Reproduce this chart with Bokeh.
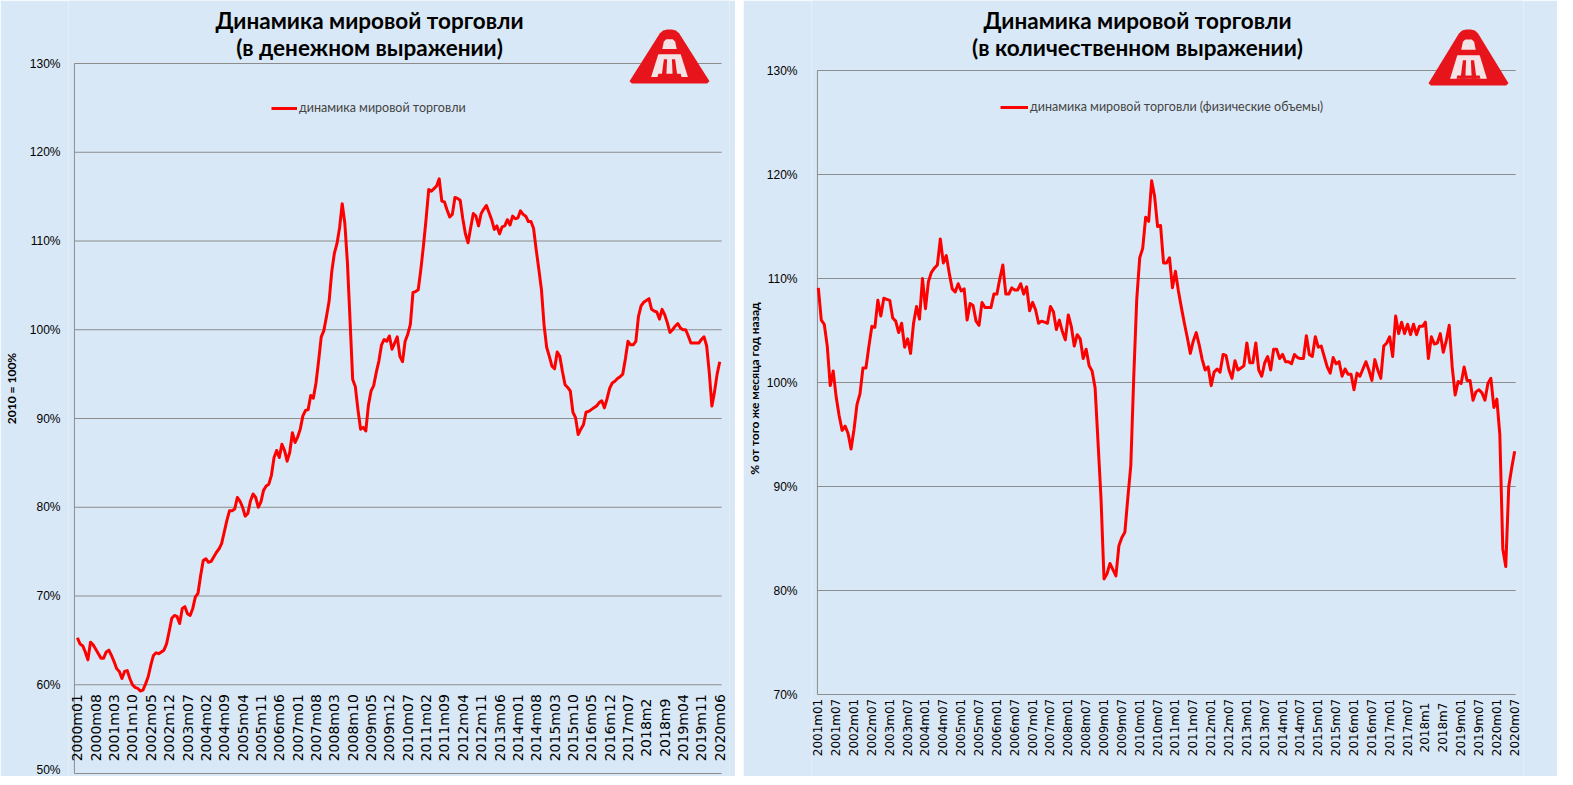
import math
from bokeh.plotting import figure
from bokeh.models import (Range1d, FixedTicker, PrintfTickFormatter, Label, Legend,
                          LegendItem, PolyAnnotation, Spacer, ColumnDataSource)
from bokeh.layouts import row
from bokeh.embed import file_html
from bokeh.resources import INLINE
from bokeh.core.properties import value

# ---------------- data ----------------
money_title = ["Динамика мировой торговли", "(в денежном выражении)"]
volume_title = ["Динамика мировой торговли", "(в количественном выражении)"]
money_series_name = "динамика мировой торговли"
volume_series_name = "динамика мировой торговли (физические объемы)"
money_axis_label = "2010 = 100%"
volume_axis_label = "% от того же месяца год назад"

# monthly, 2000m01 .. 2020m06, 2010 = 100%
money_values = [
    65.3, 64.6, 64.4, 63.7, 62.8, 64.8, 64.5, 64.0, 63.5, 63.0,
    63.0, 63.7, 63.9, 63.3, 62.6, 61.8, 61.5, 60.7, 61.5, 61.6,
    60.7, 60.0, 59.7, 59.6, 59.3, 59.4, 60.1, 60.9, 62.2, 63.3,
    63.6, 63.5, 63.7, 63.9, 64.6, 66.0, 67.5, 67.8, 67.7, 66.9,
    68.6, 68.8, 68.0, 67.8, 68.6, 69.9, 70.3, 72.3, 74.0, 74.2,
    73.8, 73.9, 74.4, 74.9, 75.3, 75.9, 77.2, 78.5, 79.6, 79.6,
    79.8, 81.1, 80.7, 80.0, 79.0, 79.3, 80.7, 81.5, 81.1, 80.0,
    80.6, 81.9, 82.4, 82.6, 83.6, 85.6, 86.4, 85.6, 87.1, 86.4,
    85.2, 86.2, 88.4, 87.3, 87.9, 88.8, 90.3, 90.9, 91.0, 92.6,
    92.3, 94.0, 96.5, 99.2, 99.9, 101.5, 103.2, 106.5, 108.6, 109.7,
    111.5, 114.2, 112.0, 107.5, 101.0, 94.4, 93.6, 91.0, 88.8, 89.0,
    88.6, 91.5, 93.1, 93.7, 95.2, 96.5, 98.3, 98.9, 98.7, 99.3,
    97.8, 98.5, 99.2, 97.0, 96.4, 98.7, 99.5, 100.6, 104.2, 104.3,
    104.5, 106.8, 109.5, 112.5, 115.8, 115.6, 115.9, 116.2, 117.0, 114.5,
    114.4, 113.5, 112.7, 113.0, 114.9, 114.8, 114.6, 112.5, 110.8, 109.8,
    111.5, 113.1, 112.8, 111.7, 113.1, 113.6, 114.0, 113.2, 112.4, 111.3,
    111.7, 110.8, 111.6, 111.7, 112.4, 111.8, 112.8, 112.5, 112.6, 113.4,
    113.0, 112.8, 112.2, 112.2, 111.4, 109.0, 106.8, 104.5, 100.5, 98.0,
    97.0, 95.9, 95.6, 97.5, 97.0, 95.3, 93.8, 93.5, 93.1, 90.7,
    90.1, 88.2, 88.8, 89.3, 90.7, 90.8, 91.0, 91.2, 91.4, 91.8,
    92.0, 91.2, 92.2, 93.4, 94.0, 94.2, 94.5, 94.7, 95.0, 96.7,
    98.7, 98.3, 98.3, 98.7, 101.5, 102.7, 103.1, 103.3, 103.5, 102.3,
    102.1, 102.0, 101.2, 102.3, 101.7, 100.8, 99.7, 100.0, 100.4, 100.7,
    100.2, 100.0, 100.0, 99.3, 98.5, 98.5, 98.5, 98.5, 98.9, 99.2,
    98.2, 95.2, 91.4, 93.0, 95.0, 96.4,
]

# monthly, 2001m01 .. 2020m07, % of same month a year earlier
volume_values = [
    109.1, 106.0, 105.6, 103.5, 99.7, 101.1, 98.6, 96.8, 95.4, 95.8,
    95.1, 93.6, 95.5, 97.9, 98.9, 101.4, 101.4, 103.5, 105.4, 105.3,
    107.9, 106.4, 108.1, 108.0, 107.9, 106.2, 105.9, 104.8, 105.7, 103.4,
    104.2, 102.8, 105.7, 107.3, 106.1, 110.0, 107.1, 109.7, 110.6, 111.0,
    111.3, 113.8, 111.5, 112.2, 110.5, 109.0, 108.7, 109.5, 108.8, 109.0,
    106.0, 107.6, 107.4, 105.9, 105.5, 107.7, 107.2, 107.2, 107.2, 108.5,
    108.5, 110.0, 111.3, 108.5, 108.5, 109.1, 108.9, 108.9, 109.5, 108.5,
    109.2, 106.9, 107.7, 107.0, 105.7, 105.9, 105.8, 105.7, 107.3, 106.8,
    105.1, 106.0, 104.9, 104.1, 106.5, 105.4, 103.5, 104.6, 104.2, 102.3,
    103.2, 101.6, 101.1, 99.5, 94.2, 88.8, 81.1, 81.6, 82.6, 82.0,
    81.4, 84.3, 85.1, 85.6, 88.9, 92.0, 100.6, 108.0, 112.0, 112.9,
    115.9, 115.5, 119.4, 117.9, 115.0, 115.1, 111.5, 111.5, 112.0, 109.1,
    110.7, 108.8, 107.2, 105.7, 104.3, 102.8, 104.0, 104.8, 103.6, 102.2,
    101.2, 101.5, 99.7, 101.0, 101.3, 101.0, 102.7, 102.6, 101.2, 100.4,
    102.1, 101.2, 101.4, 101.6, 103.8, 101.9, 101.9, 103.8, 101.2, 100.6,
    101.9, 102.5, 101.2, 103.2, 103.2, 102.3, 102.7, 102.0, 102.0, 101.8,
    102.7, 102.4, 102.3, 102.3, 104.5, 102.7, 102.5, 104.4, 103.4, 103.5,
    102.5, 101.5, 100.9, 102.4, 101.8, 102.0, 100.6, 101.3, 100.8, 100.8,
    99.3, 100.9, 100.6, 101.3, 102.0, 101.2, 100.2, 102.2, 101.2, 100.4,
    103.5, 103.8, 104.4, 102.5, 106.4, 104.7, 105.8, 104.7, 105.6, 104.6,
    105.6, 104.6, 105.4, 105.4, 105.8, 102.3, 104.4, 103.7, 103.8, 104.7,
    102.9, 104.0, 105.5, 101.5, 98.8, 100.1, 99.9, 101.5, 100.2, 100.2,
    98.3, 99.1, 99.3, 99.0, 98.3, 99.9, 100.4, 97.6, 98.4, 95.0,
    84.0, 82.3, 90.0, 91.8, 93.4,
]

money_tick_step = 7
money_tick_labels = [
    "2000m01", "2000m08", "2001m03", "2001m10", "2002m05", "2002m12",
    "2003m07", "2004m02", "2004m09", "2005m04", "2005m11", "2006m06",
    "2007m01", "2007m08", "2008m03", "2008m10", "2009m05", "2009m12",
    "2010m07", "2011m02", "2011m09", "2012m04", "2012m11", "2013m06",
    "2014m01", "2014m08", "2015m03", "2015m10", "2016m05", "2016m12",
    "2017m07", "2018m2", "2018m9", "2019m04", "2019m11", "2020m06",
]
volume_tick_step = 6
volume_tick_labels = [
    "2001m01", "2001m07", "2002m01", "2002m07", "2003m01", "2003m07",
    "2004m01", "2004m07", "2005m01", "2005m07", "2006m01", "2006m07",
    "2007m01", "2007m07", "2008m01", "2008m07", "2009m01", "2009m07",
    "2010m01", "2010m07", "2011m01", "2011m07", "2012m01", "2012m07",
    "2013m01", "2013m07", "2014m01", "2014m07", "2015m01", "2015m07",
    "2016m01", "2016m07", "2017m01", "2017m07", "2018m1", "2018m7",
    "2019m01", "2019m07", "2020m01", "2020m07",
]
money_y_ticks = [50, 60, 70, 80, 90, 100, 110, 120, 130]
volume_y_ticks = [70, 80, 90, 100, 110, 120, 130]
money_axis_at = 60     # category axis crosses the value axis here
volume_axis_at = 70

# ---------------- style / layout ----------------
BG = "#d9e8f6"
GRID = "#8c8c8c"
RED = "#ff0000"
H = 776                 # figure height; the frame fills it
PAGE_TOP = 0
TICK_FONT = "Liberation Sans"
CAT_FONT = "DejaVu Sans"
TXT_FONT = "Lato"
FRAME_BOTTOM = PAGE_TOP + H


def style_common(p, ticks, x_lo, x_hi):
    p.background_fill_color = BG
    p.border_fill_color = BG
    p.outline_line_color = None
    p.xgrid.visible = False
    p.ygrid.visible = False
    # plot-area gridlines and value-axis line, limited to the plot area
    n = len(ticks)
    p.segment(x0=[x_lo] * n, x1=[x_hi] * n, y0=ticks, y1=ticks,
              line_color=GRID, line_width=1)
    p.segment(x0=[x_lo], x1=[x_lo], y0=[min(ticks)], y1=[max(ticks)],
              line_color=GRID, line_width=1)
    ax = p.yaxis[0]
    ax.ticker = FixedTicker(ticks=ticks)
    ax.bounds = (min(ticks), max(ticks))
    ax.axis_line_color = None
    ax.major_tick_line_color = None
    ax.minor_tick_line_color = None
    ax.major_label_text_font = TICK_FONT
    ax.major_label_text_font_size = "12px"
    ax.major_label_text_color = "#000000"
    ax.formatter = PrintfTickFormatter(format="%d%%")
    ax.axis_label_text_font = TXT_FONT
    ax.axis_label_text_font_style = "bold"
    ax.axis_label_text_font_size = "12px"
    ax.axis_label_text_color = "#000000"


def add_title(p, lines, cx):
    for txt, page_y in zip(lines, (20, 47)):
        p.add_layout(Label(x=cx, y=FRAME_BOTTOM - page_y, x_units="screen", y_units="screen",
                           text=txt, text_align="center", text_baseline="middle",
                           text_font=TXT_FONT, text_font_style="bold",
                           text_font_size="22.5px", text_color="#000000"))


def add_logo(p, fx0, left, top, w, h):
    # fx0: frame left (page px); logo box given in page px
    def poly(pts, color):
        xs = [left + u * w - fx0 for u, v in pts]
        ys = [FRAME_BOTTOM - (top + v * h) for u, v in pts]
        p.add_layout(PolyAnnotation(xs=xs, ys=ys, xs_units="screen", ys_units="screen",
                                    fill_color=color, fill_alpha=1.0, line_color=None))
    poly([(0.0, 0.96), (0.03, 1.0), (0.97, 1.0), (1.0, 0.96), (0.62, 0.07), (0.58, 0.02),
          (0.53, 0.0), (0.47, 0.0), (0.42, 0.02), (0.38, 0.07)], "#e8141c")
    poly([(0.41, 0.36), (0.43, 0.22), (0.46, 0.18), (0.54, 0.18), (0.57, 0.22),
          (0.59, 0.36)], "#f2e4e6")
    poly([(0.27, 0.88), (0.36, 0.46), (0.64, 0.46), (0.73, 0.88)], "#f2e4e6")
    poly([(0.40, 0.88), (0.43, 0.55), (0.47, 0.55), (0.46, 0.88)], "#e8141c")
    poly([(0.54, 0.88), (0.53, 0.55), (0.57, 0.55), (0.60, 0.88)], "#e8141c")
    poly([(0.35, 0.88), (0.36, 0.82), (0.64, 0.82), (0.65, 0.88)], "#e8141c")


def y_range_for(top_val, top_page, bottom_val, bottom_page):
    # the frame spans the whole figure height; place the value gridlines at the page rows
    per_px = (top_val - bottom_val) / (bottom_page - top_page)
    return Range1d(bottom_val - (FRAME_BOTTOM - bottom_page) * per_px,
                   top_val + (top_page - PAGE_TOP) * per_px)


# ---------------- left chart: value terms ----------------
# plot area spans x = -1.13 .. 245.7 (page px 75..729); frame a little wider for labels
M_LO, M_HI = -1.13, 245.7
m_per_px = (M_HI - M_LO) / 654.0
mx = list(range(len(money_values)))
p1 = figure(width=735, height=H, output_backend="svg", toolbar_location=None,
            x_range=Range1d(M_LO - 6 * m_per_px, M_HI + 8 * m_per_px),
            y_range=y_range_for(130, 63, 50, 773),
            x_axis_location=None,
            min_border_left=61, min_border_right=6, min_border_top=0, min_border_bottom=0)
style_common(p1, money_y_ticks, M_LO, M_HI)
p1.yaxis.major_label_standoff = 2
p1.yaxis.axis_label = money_axis_label
p1.yaxis.axis_label_standoff = 8

r1 = p1.line(mx, money_values, line_color=RED, line_width=3, line_join="round")

cat_src1 = ColumnDataSource(dict(
    x=[k * money_tick_step for k in range(len(money_tick_labels))],
    y=[money_axis_at] * len(money_tick_labels),
    t=money_tick_labels))
p1.text(x="x", y="y", text="t", source=cat_src1, angle=math.pi / 2,
        text_align="center", text_baseline="middle", y_offset=43,
        text_font=value(CAT_FONT), text_font_size="14px", text_color="#000000")

leg1 = Legend(items=[LegendItem(label=money_series_name, renderers=[r1])],
              location=(272 - 69, FRAME_BOTTOM - 115), background_fill_alpha=0,
              border_line_color=None, glyph_width=26, glyph_height=14, label_height=14,
              label_standoff=2, padding=0, margin=0,
              label_text_font=TXT_FONT, label_text_font_size="12.5px")
p1.add_layout(leg1, "center")
add_title(p1, money_title, 370 - 69)
add_logo(p1, 69, 630, 29, 80, 54)

# ---------------- right chart: volume terms ----------------
# plot area spans x = -0.3 .. 234.3 (page px 817..1523); frame a little wider for labels
V_LO, V_HI = -0.3, 234.3
v_per_px = (V_HI - V_LO) / 706.0
vx = list(range(len(volume_values)))
p2 = figure(width=814, height=H, output_backend="svg", toolbar_location=None,
            x_range=Range1d(V_LO - 6 * v_per_px, V_HI + 8 * v_per_px),
            y_range=y_range_for(130, 70, 70, 694),
            x_axis_location=None,
            min_border_left=60, min_border_right=34, min_border_top=0, min_border_bottom=0)
style_common(p2, volume_y_ticks, V_LO, V_HI)
p2.yaxis.major_label_standoff = 8
p2.yaxis.axis_label = volume_axis_label
p2.yaxis.axis_label_standoff = 2

r2 = p2.line(vx, volume_values, line_color=RED, line_width=3, line_join="round")

cat_src2 = ColumnDataSource(dict(
    x=[k * volume_tick_step for k in range(len(volume_tick_labels))],
    y=[volume_axis_at] * len(volume_tick_labels),
    t=volume_tick_labels))
p2.text(x="x", y="y", text="t", source=cat_src2, angle=math.pi / 2,
        text_align="center", text_baseline="middle", y_offset=33,
        text_font=value(CAT_FONT), text_font_size="12px", text_color="#000000")

leg2 = Legend(items=[LegendItem(label=volume_series_name, renderers=[r2])],
              location=(1000 - 811, FRAME_BOTTOM - 114), background_fill_alpha=0,
              border_line_color=None, glyph_width=28, glyph_height=14, label_height=14,
              label_standoff=2, padding=0, margin=0,
              label_text_font=TXT_FONT, label_text_font_size="12.5px")
p2.add_layout(leg2, "center")
add_title(p2, volume_title, 1137 - 811)
add_logo(p2, 811, 1428, 29, 80, 56)

layout = row(p1, Spacer(width=8, height=H), p2)
open("out.html", "w").write(file_html(layout, INLINE))
